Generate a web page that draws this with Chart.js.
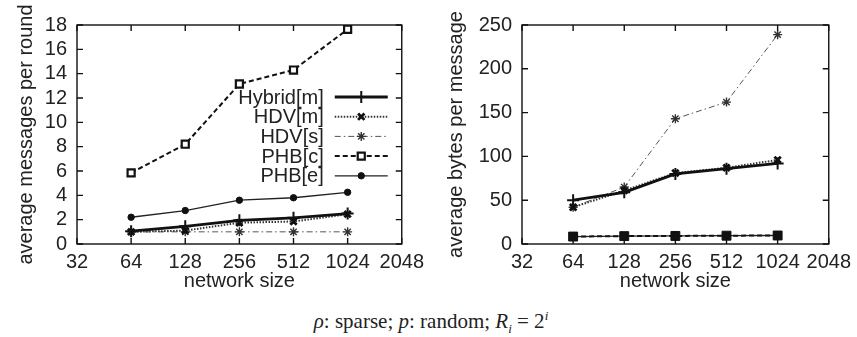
<!DOCTYPE html>
<html><head><meta charset="utf-8">
<script src="https://cdn.jsdelivr.net/npm/chart.js@4/dist/chart.umd.min.js"></script>
<style>
html,body{margin:0;padding:0;background:#fff;width:857px;height:337px;overflow:hidden}
#c1{position:absolute;left:0;top:0}
#c2{position:absolute;left:430px;top:0}
#cap{position:absolute;left:0;width:862px;top:308px;text-align:center;font-family:"Liberation Serif","Times New Roman",serif;font-size:21px;color:#222}
</style></head><body>
<canvas id="c1" width="430" height="300"></canvas>
<canvas id="c2" width="427" height="300"></canvas>
<div id="cap"><i>ρ</i>: sparse; <i>p</i>: random; <i>R<sub style="font-size:13px">i</sub></i> = 2<sup style="font-size:13px"><i>i</i></sup></div>
<script>
const sizes = [64, 128, 256, 512, 1024];
const xTicks = [32, 64, 128, 256, 512, 1024, 2048];
const seriesNames = ["Hybrid[m]", "HDV[m]", "HDV[s]", "PHB[c]", "PHB[e]"];

// left: average messages per round
const msgHybridM = [1.05, 1.45, 1.95, 2.15, 2.5];
const msgHdvM    = [1.0, 1.1, 1.75, 1.85, 2.45];
const msgHdvS    = [1.0, 1.0, 1.0, 1.0, 1.0];
const msgPhbC    = [5.85, 8.2, 13.15, 14.3, 17.65];
const msgPhbE    = [2.2, 2.75, 3.6, 3.8, 4.25];

// right: average bytes per message
const bytHybridM = [50, 59, 80, 86, 92];
const bytHdvM    = [42, 61, 81, 87, 96];
const bytHdvS    = [42, 65, 143, 162, 239];
const bytPhbC    = [8.5, 9, 9.2, 9.5, 9.7];
const bytPhbE    = [8.5, 9, 9.2, 9.5, 9.7];

const FONT = '"Liberation Sans", Arial, sans-serif';
const FS = 20;
const TXT = '#222';

function pts(arr){ return sizes.map((s,i)=>({x:s, y:arr[i]})); }

function styles(filledSquares){
  return [
    {borderColor:'#111', borderWidth:2.8, pointStyle:'cross', pointRadius:6, pointBorderWidth:2, borderDash:[], pointBackgroundColor:'#111', pointBorderColor:'#111'},
    {borderColor:'#333', borderWidth:2, pointStyle:'crossRot', pointRadius:4.5, pointBorderWidth:2.8, borderDash:[1.5,1.5], pointBackgroundColor:'#111', pointBorderColor:'#111'},
    {borderColor:'#555', borderWidth:1, pointStyle:'star', pointRadius:4.5, pointBorderWidth:1.4, borderDash:[6,3,1.5,3], pointBackgroundColor:'#333', pointBorderColor:'#333'},
    filledSquares ?
    {borderColor:'#111', borderWidth:2, pointStyle:'rect', pointRadius:6.3, pointBorderWidth:1, borderDash:[5,3], pointBackgroundColor:'#111', pointBorderColor:'#111'} :
    {borderColor:'#111', borderWidth:2, pointStyle:'rect', pointRadius:5, pointBorderWidth:2.2, borderDash:[5,3], pointBackgroundColor:'#fff', pointBorderColor:'#111'},
    {borderColor:'#222', borderWidth:1.3, pointStyle:'circle', pointRadius:3.2, pointBorderWidth:1, borderDash:[], pointBackgroundColor:'#111', pointBorderColor:'#111'}
  ];
}

const framePlugin = {
  id:'frame',
  beforeDatasetsDraw(chart){
    const {ctx, chartArea:a, scales} = chart;
    ctx.save();
    ctx.strokeStyle = '#111'; ctx.lineWidth = 1.4; ctx.setLineDash([]);
    ctx.strokeRect(a.left, a.top, a.right-a.left, a.bottom-a.top);
    const tl = 6;
    ctx.beginPath();
    scales.x.ticks.forEach(t=>{
      const px = scales.x.getPixelForValue(t.value);
      ctx.moveTo(px, a.bottom); ctx.lineTo(px, a.bottom - tl);
      ctx.moveTo(px, a.top); ctx.lineTo(px, a.top + tl);
    });
    scales.y.ticks.forEach(t=>{
      const py = scales.y.getPixelForValue(t.value);
      ctx.moveTo(a.left, py); ctx.lineTo(a.left + tl, py);
      ctx.moveTo(a.right, py); ctx.lineTo(a.right - tl, py);
    });
    ctx.stroke();
    ctx.restore();
  }
};

const legendPlugin = {
  id:'inlegend',
  afterDatasetsDraw(chart){
    const {ctx, chartArea:a} = chart;
    chart.data.datasets.forEach((ds,i)=>{
      const y = a.top + 72 + i*19.7;
      ctx.save();
      ctx.font = FS + 'px ' + FONT;
      ctx.fillStyle = TXT;
      ctx.textAlign = 'right';
      ctx.textBaseline = 'middle';
      ctx.fillText(ds.label, a.right - 78, y + 1);
      const x0 = a.right - 67, x1 = a.right - 14, xm = (x0+x1)/2;
      ctx.strokeStyle = ds.borderColor; ctx.lineWidth = ds.borderWidth;
      ctx.setLineDash(ds.borderDash || []);
      ctx.beginPath(); ctx.moveTo(x0,y); ctx.lineTo(x1,y); ctx.stroke();
      ctx.setLineDash([]);
      ctx.fillStyle = ds.pointBackgroundColor; ctx.strokeStyle = ds.pointBorderColor;
      ctx.lineWidth = ds.pointBorderWidth;
      Chart.helpers.drawPoint(ctx, {pointStyle: ds.pointStyle, radius: ds.pointRadius, borderWidth: ds.pointBorderWidth, rotation:0}, xm, y);
      ctx.restore();
    });
  }
};

function makeChart(id, arrays, yMax, yStep, yTitle, yWidth, rightPad, withLegend, filledSquares){
  const st = styles(filledSquares);
  const datasets = arrays.map((arr,i)=>Object.assign({
    label: seriesNames[i], data: pts(arr), fill:false, tension:0, showLine:true
  }, st[i]));
  return new Chart(document.getElementById(id), {
    type:'line',
    data:{datasets},
    options:{
      responsive:false, animation:false, devicePixelRatio:1,
      layout:{padding:{top:25, right:rightPad, left:0, bottom:0}},
      plugins:{legend:{display:false}, tooltip:{enabled:false}},
      scales:{
        x:{type:'logarithmic', min:32, max:2048,
           afterBuildTicks: s => { s.ticks = xTicks.map(v=>({value:v})); },
           afterFit: s => { s.height = 56; },
           grid:{display:false, drawTicks:false, tickLength:0}, border:{display:false},
           ticks:{autoSkip:false, maxRotation:0, padding:6, color:TXT, font:{family:FONT, size:FS}, callback:v=>String(v)},
           title:{display:true, text:'network size', color:TXT, font:{family:FONT, size:FS, lineHeight:1.2}, padding:{top:0,bottom:7}}
        },
        y:{min:0, max:yMax,
           afterFit: s => { s.width = yWidth; },
           grid:{display:false, drawTicks:false, tickLength:0}, border:{display:false},
           ticks:{stepSize:yStep, autoSkip:false, padding:10, color:TXT, font:{family:FONT, size:FS}},
           title:{display:true, text:yTitle, color:TXT, font:{family:FONT, size:FS, lineHeight:1.2}, padding:{top:14,bottom:0}}
        }
      }
    },
    plugins: withLegend ? [framePlugin, legendPlugin] : [framePlugin]
  });
}

makeChart('c1', [msgHybridM, msgHdvM, msgHdvS, msgPhbC, msgPhbE], 18, 2, 'average messages per round', 77, 26, true, false);
makeChart('c2', [bytHybridM, bytHdvM, bytHdvS, bytPhbC, bytPhbE], 250, 50, 'average bytes per message', 92, 25, false, true);
</script>
</body></html>
